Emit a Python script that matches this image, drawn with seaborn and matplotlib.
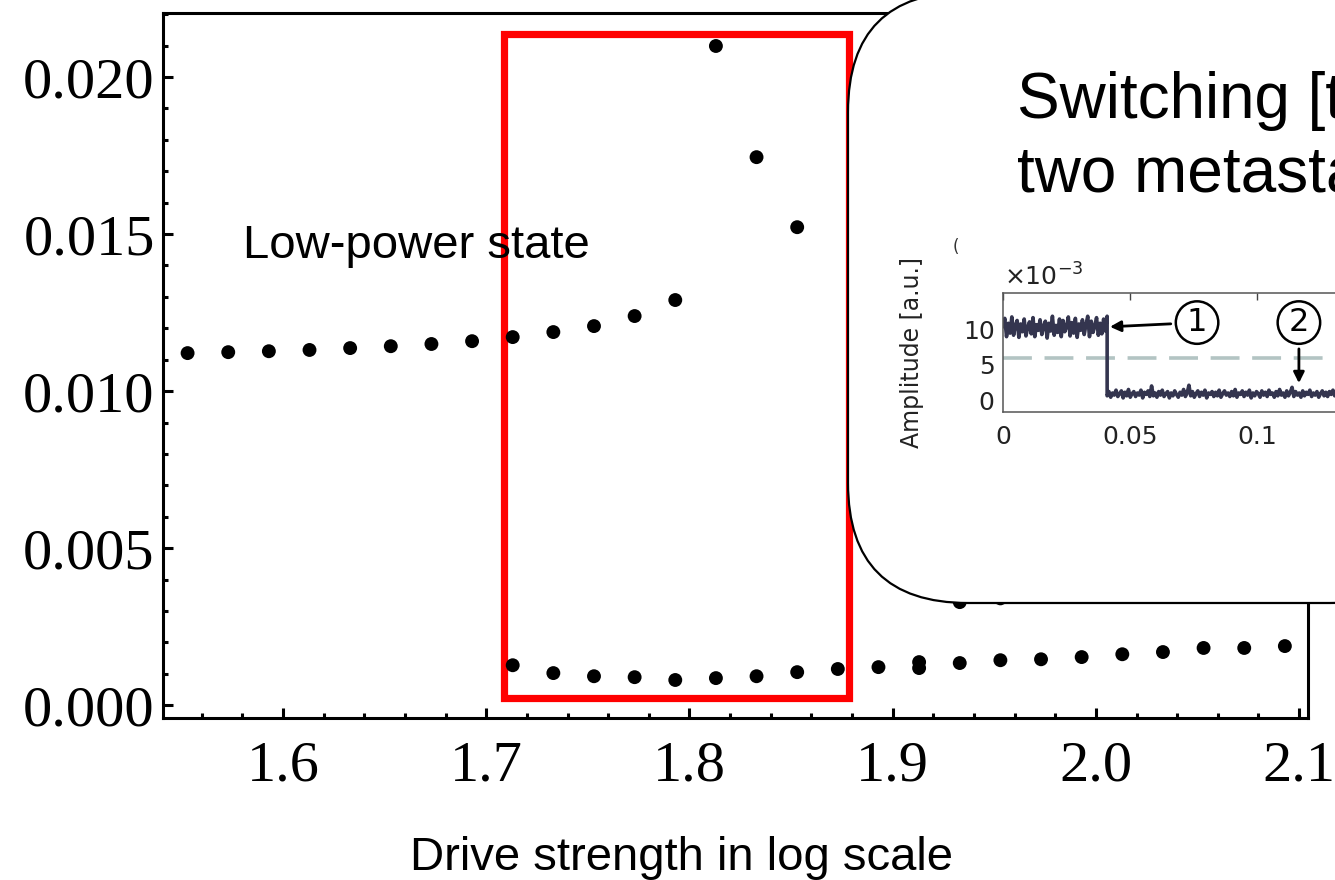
import numpy as np
import pandas as pd
import matplotlib
matplotlib.use("Agg")
import matplotlib.pyplot as plt
import seaborn as sns
from matplotlib.patches import Rectangle, FancyBboxPatch
from matplotlib.ticker import MultipleLocator, FormatStrFormatter

# upper branch (low-power state -> jump)
upper_drive = [1.553, 1.573, 1.593, 1.613, 1.633, 1.653, 1.673, 1.693, 1.713, 1.733,
               1.753, 1.773, 1.793, 1.813, 1.833, 1.853, 1.933, 1.953]
upper_amp = [0.01121, 0.01124, 0.01127, 0.01131, 0.01137, 0.01143, 0.01150, 0.01159, 0.01172, 0.01188,
             0.01207, 0.01239, 0.01290, 0.02099, 0.01745, 0.01522, 0.00328, 0.00340]

# lower branch
lower_drive = [1.713, 1.733, 1.753, 1.773, 1.793, 1.813, 1.833, 1.853, 1.873, 1.893,
               1.913, 1.913, 1.933, 1.953, 1.973, 1.993, 2.013, 2.033, 2.053, 2.073, 2.093]
lower_amp = [0.00127, 0.00102, 0.00092, 0.00089, 0.00080, 0.00086, 0.00092, 0.00105, 0.00115, 0.00121,
             0.00137, 0.00118, 0.00134, 0.00143, 0.00146, 0.00153, 0.00162, 0.00169, 0.00182, 0.00182, 0.00188]

# switching box (drive range)
box_drive = [1.7089, 1.8783]
box_amp = [0.00022, 0.02137]

# inset time trace (x1e-3)
switch_time = 0.041
sample_dt = 0.0007
high_amp = [10.4, 11.6, 9.0, 10.9, 9.5, 11.8, 9.2, 10.6, 11.3, 8.9, 10.8, 9.7, 11.5, 9.1, 10.3,
            11.1, 9.4, 11.7, 9.0, 10.7, 9.9, 11.4, 9.3, 10.5, 11.2, 8.8, 10.9, 9.8, 11.9, 9.2,
            10.6, 9.6, 11.5, 9.0, 11.3, 9.7, 10.4, 11.8, 9.1, 11.0, 9.5, 11.6, 8.9, 10.8, 9.9,
            11.4, 9.3, 10.7, 11.9, 9.0, 11.2, 9.6, 10.5, 11.7, 9.2, 10.9, 9.4, 11.5, 9.8, 11.9]
low_amp = [0.6, 1.2, 0.4, 1.0, 0.7, 1.4, 0.5, 0.9, 1.3, 0.3,
           1.1, 0.6, 1.5, 0.4, 0.9, 1.2, 0.5, 1.0, 0.7, 1.4,
           0.3, 1.1, 0.8, 1.3, 0.5, 2.0, 0.6, 1.0, 0.4, 1.2,
           0.7, 1.4, 0.5, 0.9, 1.2, 0.3, 1.0, 0.6, 1.3, 0.8,
           0.4, 1.1, 0.7, 1.5, 0.5, 1.0, 2.1, 0.6, 1.2, 0.4,
           0.9, 1.3, 0.5, 1.1, 0.7, 1.4, 0.3, 1.0, 0.8, 1.2,
           0.5, 1.1, 0.6, 1.4, 0.4, 0.9, 1.3, 0.7, 1.0, 0.5,
           1.2, 0.6, 1.5, 0.4, 1.0, 0.8, 1.3, 0.5, 1.1, 0.7,
           1.4, 0.3, 1.0, 0.6, 1.2, 0.9, 0.4, 1.3, 0.7, 1.1,
           0.5, 1.4, 0.8, 1.0, 0.4, 1.2, 0.6, 1.5, 0.7, 1.0,
           0.4, 1.3, 0.6, 1.1, 1.8, 0.5, 1.2, 0.7, 1.0, 0.4,
           1.3, 0.6, 1.1, 0.8, 1.4, 0.5, 1.0, 0.7, 1.2, 0.4,
           0.9, 1.3, 0.6, 1.1, 0.5, 1.2, 0.8, 1.4, 0.6, 1.0]
threshold = 5.9

sns.set_style("white")
plt.rcParams["font.family"] = ["DejaVu Sans"]
plt.rcParams["text.color"] = "black"
plt.rcParams["axes.labelcolor"] = "black"

fig = plt.figure(figsize=(13.35, 8.8), dpi=100)
ax = fig.add_axes([0.1221, 0.1841, 0.8577, 0.8011])

df_up = pd.DataFrame({"drive": upper_drive, "amp": upper_amp})
df_lo = pd.DataFrame({"drive": lower_drive, "amp": lower_amp})
for d in (df_up, df_lo):
    sns.scatterplot(data=d, x="drive", y="amp", color="black", s=100,
                    edgecolor="none", ax=ax, legend=False, zorder=3)

ax.add_patch(Rectangle((box_drive[0], box_amp[0]), box_drive[1] - box_drive[0],
                       box_amp[1] - box_amp[0], fill=False, edgecolor="#ff0000",
                       lw=5.2, zorder=2))

ax.set_xlim(1.5409, 2.1044)
ax.set_ylim(-0.00041, 0.02204)
ax.xaxis.set_major_locator(MultipleLocator(0.1))
ax.xaxis.set_minor_locator(MultipleLocator(0.02))
ax.yaxis.set_major_locator(MultipleLocator(0.005))
ax.yaxis.set_minor_locator(MultipleLocator(0.001))
ax.xaxis.set_major_formatter(FormatStrFormatter("%.1f"))
ax.yaxis.set_major_formatter(FormatStrFormatter("%.3f"))
ax.tick_params(which="both", direction="in", width=2.2, colors="black",
               top=False, right=False, bottom=True, left=True)
ax.tick_params(which="major", length=7)
ax.tick_params(which="minor", length=3.5)
ax.tick_params(axis="x", which="major", pad=16)
ax.tick_params(axis="y", which="major", pad=6)
for lab in ax.get_xticklabels() + ax.get_yticklabels():
    lab.set_family("Liberation Serif")
    lab.set_fontsize(42)
    lab.set_color("black")
for sp in ax.spines.values():
    sp.set_linewidth(2.2)
    sp.set_color("black")

ax.set_ylabel("")
ax.set_xlabel("Drive strength in log scale", family="Liberation Sans", fontsize=34)
ax.xaxis.set_label_coords(0.4524, -0.168)
ax.xaxis.label.set_va("top")

ax.text(1.5803, 0.01424, "Low-power state", family="Liberation Sans", fontsize=34,
        va="baseline", ha="left", zorder=4)

# callout box
callout = FancyBboxPatch((848 / 1335, (880 - 603) / 880), (1450 - 848) / 1335,
                         (888 - 277) / 880,
                         boxstyle="round,pad=0,rounding_size=%f" % (120 / 1335),
                         mutation_aspect=1335 / 880, transform=fig.transFigure,
                         facecolor="white", edgecolor="black", lw=1.6, zorder=5)
fig.add_artist(callout)

fig.text(1017 / 1335, (880 - 118) / 880, "Switching [ti",
         family="Liberation Sans", fontsize=46, va="baseline", ha="left", zorder=7)
fig.text(1017 / 1335, (880 - 191) / 880, "two metastab",
         family="Liberation Sans", fontsize=46, va="baseline", ha="left", zorder=7)
fig.text(953 / 1335, (880 - 252) / 880, "(", fontsize=12, color="#333333", zorder=7)

# inset time trace
ax_in = fig.add_axes([1003 / 1335, (880 - 412) / 880, 508 / 1335, (412 - 293) / 880])
ax_in.set_zorder(6)
t_high = np.linspace(0, switch_time, len(high_amp))
t_low = switch_time + sample_dt * np.arange(len(low_amp))
trace = pd.DataFrame({"t": np.concatenate([t_high, t_low]),
                      "a": np.concatenate([high_amp, low_amp])})
sns.lineplot(data=trace, x="t", y="a", color="#34354f", lw=2.6, ax=ax_in,
             sort=False, estimator=None)
ax_in.axhline(threshold, color="#b3c4c3", lw=2.6, dashes=(8, 3.5), zorder=1)
ax_in.set_xlim(0, 0.2)
ax_in.set_ylim(-1.7, 15.2)
ax_in.set_xticks([0, 0.05, 0.1])
ax_in.set_xticklabels(["0", "0.05", "0.1"])
ax_in.set_yticks([0, 5, 10])
ax_in.tick_params(which="both", direction="in", length=5, width=1, colors="#444444",
                  labelcolor="#222222", labelsize=18, top=True, right=True, pad=6)
ax_in.tick_params(axis="x", pad=9)
for sp in ax_in.spines.values():
    sp.set_linewidth(1.1)
    sp.set_color("#555555")
ax_in.set_xlabel("")
ax_in.set_ylabel("Amplitude [a.u.]", fontsize=17, color="#222222")
ax_in.yaxis.set_label_coords(-0.155, 0.5)
ax_in.text(0.002, 1.02, r"$\times10^{-3}$", transform=ax_in.transAxes,
           fontsize=18, color="#222222", va="bottom", ha="left")

circ = dict(boxstyle="circle,pad=0.18", fc="white", ec="black", lw=1.8)
ax_in.annotate("1", xy=(0.0421, 10.4), xytext=(0.0764, 11.0), fontsize=23,
               ha="center", va="center", bbox=circ,
               arrowprops=dict(arrowstyle="-|>", color="black", lw=2,
                               mutation_scale=16, shrinkA=3, shrinkB=0))
ax_in.annotate("2", xy=(0.1165, 2.4), xytext=(0.1165, 11.0), fontsize=23,
               ha="center", va="center", bbox=circ,
               arrowprops=dict(arrowstyle="-|>", color="black", lw=2,
                               mutation_scale=16, shrinkA=3, shrinkB=0))

fig.savefig("out.png", dpi=100)
